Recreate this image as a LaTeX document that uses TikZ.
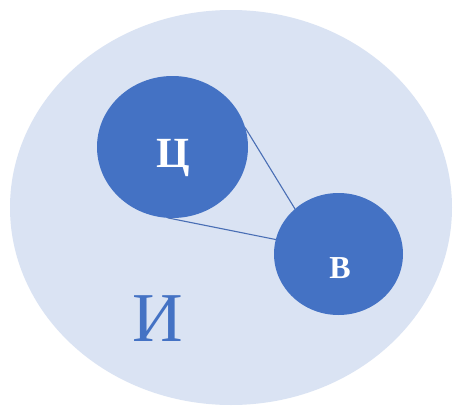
\documentclass[tikz,border=0pt]{standalone}
\usepackage{fontspec}
\setmainfont{Liberation Serif}
\usetikzlibrary{shapes.geometric}
\definecolor{bgblue}{HTML}{DAE3F3}
\definecolor{midblue}{HTML}{4472C4}
\definecolor{lineblue}{HTML}{4A6FB5}
\tikzset{
  blob/.style={ellipse, fill=midblue, draw=none, inner sep=0pt, outer sep=0pt, text=white},
  link/.style={draw=lineblue, line width=1.1pt}
}
\begin{document}
\begin{tikzpicture}[x=1pt,y=-1pt]
\useasboundingbox[fill=white] (0,0) rectangle (453,407);
\node[ellipse, fill=bgblue, inner sep=0pt, minimum width=442pt, minimum height=395pt] (big) at (231,207.5) {};
\node[blob, minimum width=151pt, minimum height=142pt] (c) at (172.5,147) {};
\node[text=white, font=\bfseries\fontsize{43}{43}\selectfont] (cl) at (173,158) {Ц};
\node[blob, minimum width=129pt, minimum height=122pt] (b) at (338.5,254) {};
\node[text=white, font=\bfseries\fontsize{32}{32}\selectfont] (bl) at (340,268) {В};
\node[text=midblue, font=\fontsize{70}{70}\selectfont] (il) at (158,319) {И};
\draw[link] (c.15) -- (b.134);
\draw[link] (c.-94) -- (b.167);
\end{tikzpicture}
\end{document}
